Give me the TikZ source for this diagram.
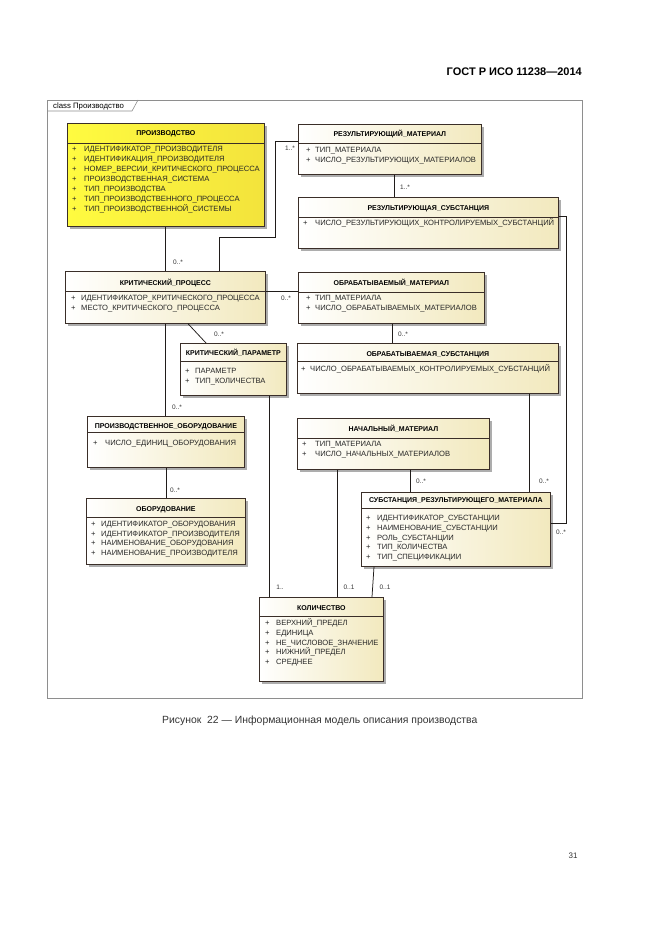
\documentclass[tikz,border=0pt]{standalone}
\usepackage{fontspec}
\setmainfont{Liberation Sans}
\usetikzlibrary{shadows}

\definecolor{boxline}{HTML}{3A2E28}
\definecolor{boxcream}{HTML}{F2E9BE}
\definecolor{prodyellow}{HTML}{FFFB40}
\definecolor{prodyellowdark}{HTML}{F3E33C}
\definecolor{framegrey}{HTML}{8E8E8E}
\definecolor{linkline}{HTML}{201C1A}

\tikzset{
  classbox/.style={draw=boxline, line width=0.7pt, inner sep=0pt, anchor=north west,
    left color=white, right color=boxcream,
    drop shadow={shadow xshift=2.5pt, shadow yshift=-2.5pt, fill=black!32, opacity=1}},
  prodbox/.style={classbox, left color=prodyellow, right color=prodyellowdark},
  classtitle/.style={inner sep=0pt, text height=5pt, text depth=0pt,
    font=\bfseries\fontsize{7}{8}\selectfont},
  attrtext/.style={anchor=west, inner sep=0pt, text height=5.5pt, text depth=0pt,
    font=\fontsize{7.6}{9}\selectfont, text=black!85},
  multtext/.style={inner sep=0pt, text height=4.6pt, text depth=0pt,
    font=\fontsize{6.5}{8}\selectfont, text=black!80},
  link/.style={draw=linkline, line width=0.75pt},
}

\begin{document}
\begin{tikzpicture}[x=1pt, y=-1pt]

    \useasboundingbox (0,0) rectangle (661,936);

    % page head, frame and tab
    \node[inner sep=0pt, anchor=east, text height=8pt, text depth=0pt,
      font=\bfseries\fontsize{11}{13}\selectfont] (head) at (582,72) {ГОСТ Р ИСО 11238—2014};
    \draw[framegrey, line width=0.8pt] (47,100) rectangle (582,698);
    \draw[framegrey, line width=0.6pt] (47,111) -- (132,111) -- (138,100);
    \node[inner sep=0pt, anchor=west, text height=5.5pt, text depth=0pt,
      font=\fontsize{7.8}{9}\selectfont] (tab) at (53,106) {class Производство};

    % ПРОИЗВОДСТВО
    \node[prodbox, minimum width=197, minimum height=103] (prod) at (67,123) {};
    \draw[boxline, line width=0.6pt] (prod.west |- 0,143) -- (prod.east |- 0,143);
    \node[classtitle] (prodT) at (prod.north |- 0,133) {ПРОИЗВОДСТВО};
    \foreach \txt [count=\i from 0] in {ИДЕНТИФИКАТОР\_ПРОИЗВОДИТЕЛЯ, ИДЕНТИФИКАЦИЯ\_ПРОИЗВОДИТЕЛЯ,
        НОМЕР\_ВЕРСИИ\_КРИТИЧЕСКОГО\_ПРОЦЕССА, ПРОИЗВОДСТВЕННАЯ\_СИСТЕМА, ТИП\_ПРОИЗВОДСТВА,
        ТИП\_ПРОИЗВОДСТВЕННОГО\_ПРОЦЕССА, ТИП\_ПРОИЗВОДСТВЕННОЙ\_СИСТЕМЫ} {
      \node[attrtext] (prodP\i) at (72,{148.5+10*\i}) {+};
      \node[attrtext] (prodA\i) at (84,{148.5+10*\i}) {\txt};
    }

    % РЕЗУЛЬТИРУЮЩИЙ_МАТЕРИАЛ
    \node[classbox, minimum width=183, minimum height=50] (resmat) at (298,124) {};
    \draw[boxline, line width=0.6pt] (resmat.west |- 0,143) -- (resmat.east |- 0,143);
    \node[classtitle] (resmatT) at (resmat.north |- 0,134) {РЕЗУЛЬТИРУЮЩИЙ\_МАТЕРИАЛ};
    \foreach \txt [count=\i from 0] in {ТИП\_МАТЕРИАЛА, ЧИСЛО\_РЕЗУЛЬТИРУЮЩИХ\_МАТЕРИАЛОВ} {
      \node[attrtext] (resmatP\i) at (306,{150+9.5*\i}) {+};
      \node[attrtext] (resmatA\i) at (315,{150+9.5*\i}) {\txt};
    }

    % РЕЗУЛЬТИРУЮЩАЯ_СУБСТАНЦИЯ
    \node[classbox, minimum width=260, minimum height=51] (ressub) at (298,197) {};
    \draw[boxline, line width=0.6pt] (ressub.west |- 0,217) -- (ressub.east |- 0,217);
    \node[classtitle] (ressubT) at (ressub.north |- 0,208) {РЕЗУЛЬТИРУЮЩАЯ\_СУБСТАНЦИЯ};
    \node[attrtext] (ressubP0) at (303,223) {+};
    \node[attrtext] (ressubA0) at (315,223) {ЧИСЛО\_РЕЗУЛЬТИРУЮЩИХ\_КОНТРОЛИРУЕМЫХ\_СУБСТАНЦИЙ};

    % КРИТИЧЕСКИЙ_ПРОЦЕСС
    \node[classbox, minimum width=200, minimum height=52] (critproc) at (65,271) {};
    \draw[boxline, line width=0.6pt] (critproc.west |- 0,291) -- (critproc.east |- 0,291);
    \node[classtitle] (critprocT) at (critproc.north |- 0,283) {КРИТИЧЕСКИЙ\_ПРОЦЕСС};
    \foreach \txt [count=\i from 0] in {ИДЕНТИФИКАТОР\_КРИТИЧЕСКОГО\_ПРОЦЕССА, МЕСТО\_КРИТИЧЕСКОГО\_ПРОЦЕССА} {
      \node[attrtext] (critprocP\i) at (71,{298+9.5*\i}) {+};
      \node[attrtext] (critprocA\i) at (81,{298+9.5*\i}) {\txt};
    }

    % ОБРАБАТЫВАЕМЫЙ_МАТЕРИАЛ
    \node[classbox, minimum width=186, minimum height=51] (procmat) at (298,272) {};
    \draw[boxline, line width=0.6pt] (procmat.west |- 0,292) -- (procmat.east |- 0,292);
    \node[classtitle] (procmatT) at (procmat.north |- 0,283) {ОБРАБАТЫВАЕМЫЙ\_МАТЕРИАЛ};
    \foreach \txt [count=\i from 0] in {ТИП\_МАТЕРИАЛА, ЧИСЛО\_ОБРАБАТЫВАЕМЫХ\_МАТЕРИАЛОВ} {
      \node[attrtext] (procmatP\i) at (306,{298+9.5*\i}) {+};
      \node[attrtext] (procmatA\i) at (315,{298+9.5*\i}) {\txt};
    }

    % КРИТИЧЕСКИЙ_ПАРАМЕТР
    \node[classbox, minimum width=106, minimum height=52] (critpar) at (180,343) {};
    \draw[boxline, line width=0.6pt] (critpar.west |- 0,361) -- (critpar.east |- 0,361);
    \node[classtitle] (critparT) at (critpar.north |- 0,353) {КРИТИЧЕСКИЙ\_ПАРАМЕТР};
    \foreach \txt [count=\i from 0] in {ПАРАМЕТР, ТИП\_КОЛИЧЕСТВА} {
      \node[attrtext] (critparP\i) at (185,{371+9.5*\i}) {+};
      \node[attrtext] (critparA\i) at (195,{371+9.5*\i}) {\txt};
    }

    % ОБРАБАТЫВАЕМАЯ_СУБСТАНЦИЯ
    \node[classbox, minimum width=261, minimum height=50] (procsub) at (297,343) {};
    \draw[boxline, line width=0.6pt] (procsub.west |- 0,361) -- (procsub.east |- 0,361);
    \node[classtitle] (procsubT) at (procsub.north |- 0,354) {ОБРАБАТЫВАЕМАЯ\_СУБСТАНЦИЯ};
    \node[attrtext] (procsubP0) at (301,369) {+};
    \node[attrtext] (procsubA0) at (310,369) {ЧИСЛО\_ОБРАБАТЫВАЕМЫХ\_КОНТРОЛИРУЕМЫХ\_СУБСТАНЦИЙ};

    % ПРОИЗВОДСТВЕННОЕ_ОБОРУДОВАНИЕ
    \node[classbox, minimum width=157, minimum height=51] (prodequip) at (87,416) {};
    \draw[boxline, line width=0.6pt] (prodequip.west |- 0,432) -- (prodequip.east |- 0,432);
    \node[classtitle] (prodequipT) at (prodequip.north |- 0,426) {ПРОИЗВОДСТВЕННОЕ\_ОБОРУДОВАНИЕ};
    \node[attrtext] (prodequipP0) at (93,443) {+};
    \node[attrtext] (prodequipA0) at (105,443) {ЧИСЛО\_ЕДИНИЦ\_ОБОРУДОВАНИЯ};

    % ОБОРУДОВАНИЕ
    \node[classbox, minimum width=159, minimum height=66] (equip) at (86,498) {};
    \draw[boxline, line width=0.6pt] (equip.west |- 0,517) -- (equip.east |- 0,517);
    \node[classtitle] (equipT) at (equip.north |- 0,509) {ОБОРУДОВАНИЕ};
    \foreach \txt [count=\i from 0] in {ИДЕНТИФИКАТОР\_ОБОРУДОВАНИЯ, ИДЕНТИФИКАТОР\_ПРОИЗВОДИТЕЛЯ,
        НАИМЕНОВАНИЕ\_ОБОРУДОВАНИЯ, НАИМЕНОВАНИЕ\_ПРОИЗВОДИТЕЛЯ} {
      \node[attrtext] (equipP\i) at (91,{524+9.6*\i}) {+};
      \node[attrtext] (equipA\i) at (101,{524+9.6*\i}) {\txt};
    }

    % НАЧАЛЬНЫЙ_МАТЕРИАЛ
    \node[classbox, minimum width=192, minimum height=51] (startmat) at (297,418) {};
    \draw[boxline, line width=0.6pt] (startmat.west |- 0,438) -- (startmat.east |- 0,438);
    \node[classtitle] (startmatT) at (startmat.north |- 0,429) {НАЧАЛЬНЫЙ\_МАТЕРИАЛ};
    \foreach \txt [count=\i from 0] in {ТИП\_МАТЕРИАЛА, ЧИСЛО\_НАЧАЛЬНЫХ\_МАТЕРИАЛОВ} {
      \node[attrtext] (startmatP\i) at (302,{444+9.5*\i}) {+};
      \node[attrtext] (startmatA\i) at (315,{444+9.5*\i}) {\txt};
    }

    % СУБСТАНЦИЯ_РЕЗУЛЬТИРУЮЩЕГО_МАТЕРИАЛА
    \node[classbox, minimum width=189, minimum height=74] (subst) at (361,492) {};
    \draw[boxline, line width=0.6pt] (subst.west |- 0,508) -- (subst.east |- 0,508);
    \node[classtitle] (substT) at (subst.north |- 0,500) {СУБСТАНЦИЯ\_РЕЗУЛЬТИРУЮЩЕГО\_МАТЕРИАЛА};
    \foreach \txt [count=\i from 0] in {ИДЕНТИФИКАТОР\_СУБСТАНЦИИ, НАИМЕНОВАНИЕ\_СУБСТАНЦИИ,
        РОЛЬ\_СУБСТАНЦИИ, ТИП\_КОЛИЧЕСТВА, ТИП\_СПЕЦИФИКАЦИИ} {
      \node[attrtext] (substP\i) at (366,{518+9.7*\i}) {+};
      \node[attrtext] (substA\i) at (377,{518+9.7*\i}) {\txt};
    }

    % КОЛИЧЕСТВО
    \node[classbox, minimum width=124, minimum height=84] (quant) at (259,597) {};
    \draw[boxline, line width=0.6pt] (quant.west |- 0,616) -- (quant.east |- 0,616);
    \node[classtitle] (quantT) at (quant.north |- 0,608) {КОЛИЧЕСТВО};
    \foreach \txt [count=\i from 0] in {ВЕРХНИЙ\_ПРЕДЕЛ, ЕДИНИЦА, НЕ\_ЧИСЛОВОЕ\_ЗНАЧЕНИЕ,
        НИЖНИЙ\_ПРЕДЕЛ, СРЕДНЕЕ} {
      \node[attrtext] (quantP\i) at (265,{623+9.7*\i}) {+};
      \node[attrtext] (quantA\i) at (276,{623+9.7*\i}) {\txt};
    }

    % associations
    \draw[link] (prod.south -| 165,0) -- (critproc.north -| 165,0);
    \draw[link] (critproc.south -| 165,0) -- (prodequip.north -| 165,0);
    \draw[link] (prodequip.south -| 166,0) -- (equip.north -| 166,0);
    \draw[link] (resmat.west |- 0,141) -| (275,237) -| (critproc.north -| 219,0);
    \draw[link] (critproc.east |- 0,291) -- (procmat.west |- 0,291);
    \draw[link] (resmat.south -| 394,0) -- (ressub.north -| 394,0);
    \draw[link] (procmat.south -| 392,0) -- (procsub.north -| 392,0);
    \draw[link] (critproc.south -| 188,0) -- (critpar.north -| 206,0);
    \draw[link] (critpar.south -| 269,0) -- (quant.north -| 269,0);
    \draw[link] (startmat.south -| 337,0) -- (quant.north -| 337,0);
    \draw[link] (startmat.south -| 410,0) -- (subst.north -| 410,0);
    \draw[link] (procsub.south -| 529,0) -- (subst.north -| 529,0);
    \draw[link] (subst.south -| 374,0) -- (quant.north -| 372,0);
    \draw[link] (ressub.east |- 0,216) -| (566,523) -- (subst.east |- 0,523);

    % multiplicities
    \node[multtext] (m1) at (178,262) {0..*};
    \node[multtext] (m2) at (290,148) {1..*};
    \node[multtext] (m3) at (405,187) {1..*};
    \node[multtext] (m4) at (286,298) {0..*};
    \node[multtext] (m5) at (219,334) {0..*};
    \node[multtext] (m6) at (403,334) {0..*};
    \node[multtext] (m7) at (177,407) {0..*};
    \node[multtext] (m8) at (175,490) {0..*};
    \node[multtext] (m9) at (421,481) {0..*};
    \node[multtext] (m10) at (544,481) {0..*};
    \node[multtext] (m11) at (561,532) {0..*};
    \node[multtext] (m12) at (280,587) {1..};
    \node[multtext] (m13) at (349,587) {0..1};
    \node[multtext] (m14) at (385,587) {0..1};

    % caption and page number
    \node[inner sep=0pt, anchor=west, text height=7.4pt, text depth=0pt,
      font=\fontsize{10.4}{12}\selectfont, text=black!80] (caption) at (162,720)
      {Рисунок\ \ 22 — Информационная модель описания производства};
    \node[inner sep=0pt, text height=5.7pt, text depth=0pt,
      font=\fontsize{8}{10}\selectfont, text=black!80] (pagenum) at (573,856) {31};

\end{tikzpicture}
\end{document}
